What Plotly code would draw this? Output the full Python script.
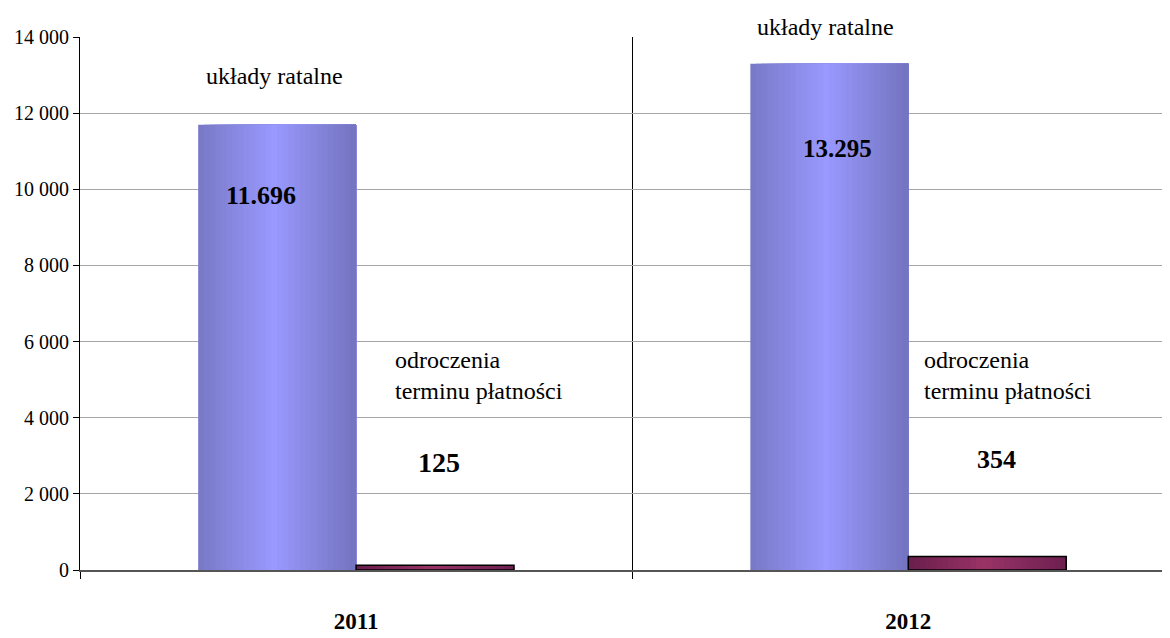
import plotly.graph_objects as go

# ---- data ----
years = ["2011", "2012"]
uklady = [11696, 13295]          # układy ratalne
odroczenia = [125, 354]          # odroczenia terminu płatności
uklady_labels = ["11.696", "13.295"]
odroczenia_labels = ["125", "354"]
y_tickvals = [0, 2000, 4000, 6000, 8000, 10000, 12000, 14000]
y_ticktext = ["0", "2 000", "4 000", "6 000", "8 000", "10 000", "12 000", "14 000"]

FONT = "Liberation Serif, Times New Roman, serif"
BW = 0.286   # width of one bar in category units
N = 28       # gradient stripes
YMAX = 14000


def lerp(c1, c2, t):
    return tuple(round(a + (b - a) * t) for a, b in zip(c1, c2))


def grad(edge_l, mid, edge_r, t, peak=0.48):
    if t <= peak:
        c = lerp(edge_l, mid, t / peak)
    else:
        c = lerp(mid, edge_r, (t - peak) / (1 - peak))
    return "rgb(%d,%d,%d)" % c


fig = go.Figure()


def add_gradient_bar(values, start, cl, cm, cr):
    dw = BW / N
    for i in range(N):
        t = (i + 0.5) / N
        fig.add_trace(go.Bar(
            x=years, y=values,
            offset=start + i * dw, width=BW - i * dw,
            marker=dict(color=grad(cl, cm, cr, t), line=dict(width=0)),
            showlegend=False, hoverinfo="skip",
        ))


add_gradient_bar(uklady, -BW, (120, 120, 198), (153, 153, 255), (115, 115, 190))
add_gradient_bar(odroczenia, 0.0, (105, 30, 75), (153, 51, 102), (108, 32, 80))
# outline of the small bars
fig.add_trace(go.Bar(
    x=years, y=odroczenia, offset=0.0, width=BW,
    marker=dict(color="rgba(0,0,0,0)", line=dict(color="black", width=1.5)),
    showlegend=False, hoverinfo="skip",
))

ann = []
# series name labels
ann.append(dict(x=-0.147, y=12980, text="układy ratalne", size=24, bold=False))
ann.append(dict(x=1 - 0.149, y=14264, text="układy ratalne", size=24, bold=False))
# value labels
ann.append(dict(x=-0.1715, y=9825, text=uklady_labels[0], size=26, bold=True))
ann.append(dict(x=1 - 0.128, y=11060, text=uklady_labels[1], size=25, bold=True))
ann.append(dict(x=0.151, y=2824, text=odroczenia_labels[0], size=28, bold=True))
ann.append(dict(x=1 + 0.159, y=2903, text=odroczenia_labels[1], size=26, bold=True))

annotations = []
for a in ann:
    annotations.append(dict(
        x=a["x"], y=a["y"] / YMAX, xref="x", yref="paper",
        text=("<b>%s</b>" % a["text"]) if a["bold"] else a["text"],
        showarrow=False, font=dict(family=FONT, size=a["size"], color="black"),
        xanchor="center", yanchor="middle",
    ))
for xx in [0.067, 1.025]:
    annotations.append(dict(
        x=xx, y=5096 / YMAX, xref="x", yref="paper",
        text="odroczenia<br>terminu płatności", align="left",
        showarrow=False, font=dict(family=FONT, size=24, color="black"),
        xanchor="left", yanchor="middle",
    ))

fig.update_layout(
    width=1162, height=630,
    margin=dict(l=72, r=0, t=29, b=68),
    plot_bgcolor="white", paper_bgcolor="white",
    barmode="overlay",
    annotations=annotations,
    font=dict(family=FONT, color="black"),
    xaxis=dict(
        type="category", range=[-0.5, 1.474], automargin=False,
        tickson="boundaries", ticks="outside", ticklen=7, tickcolor="black",
        showgrid=True, gridcolor="black", gridwidth=1,
        showline=True, linecolor="#555555", linewidth=1.5,
        tickvals=years, ticktext=["<b>%s</b>" % y for y in years],
        tickfont=dict(family=FONT, size=23, color="black"),
        ticklabelstandoff=30,
        zeroline=False,
    ),
    yaxis=dict(
        range=[0, YMAX], tickvals=y_tickvals, ticktext=y_ticktext,
        automargin=False,
        ticks="outside", ticklen=6, tickcolor="black",
        showgrid=True, gridcolor="#a6a6a6", gridwidth=1,
        showline=True, linecolor="black", linewidth=1,
        tickfont=dict(family=FONT, size=20, color="black"),
        zeroline=False,
    ),
)

fig.write_html("out.html")
